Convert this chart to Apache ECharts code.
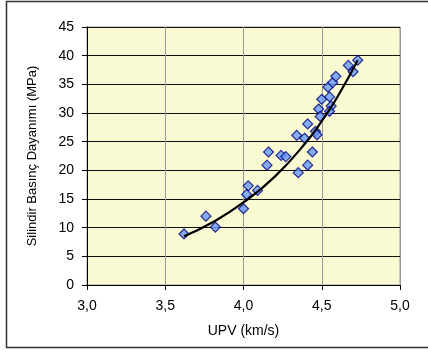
<!DOCTYPE html>
<html>
<head>
<meta charset="utf-8">
<script src="https://cdn.jsdelivr.net/npm/echarts@6/dist/echarts.min.js"></script>
<style>
  html, body { margin: 0; padding: 0; background: #fff; }
  #chart { width: 428px; height: 353px; }
</style>
</head>
<body>
<div id="chart"></div>
<script>
// olcum noktalari (UPV - dayanim)
var upv = [3.62, 3.76, 3.82, 4.00, 4.03, 4.02, 4.09, 4.15, 4.16, 4.24, 4.27, 4.34, 4.35, 4.39, 4.41, 4.41,
    4.44, 4.46, 4.47, 4.48, 4.49, 4.50, 4.54, 4.55, 4.56, 4.55, 4.57, 4.59, 4.67, 4.70, 4.73];
var strength = [8.9, 12.0, 10.1, 13.3, 17.3, 15.8, 16.5, 20.9, 23.2, 22.6, 22.4, 26.1, 19.6, 25.6, 28.1, 20.9,
    23.2, 26.8, 26.2, 30.7, 29.4, 32.4, 34.5, 32.8, 31.2, 30.3, 35.3, 36.4, 38.3, 37.2, 39.2];
// egilim cizgisi (resimden okunan noktalar)
var trendX = [3.62, 3.80, 4.00, 4.20, 4.40, 4.50, 4.60, 4.73];
var trendY = [8.5, 10.9, 14.4, 18.9, 24.9, 28.6, 32.8, 39.2];
var xTicks = [3.0, 3.5, 4.0, 4.5, 5.0];
var yTicks = [0, 5, 10, 15, 20, 25, 30, 35, 40, 45];

var chart = echarts.init(document.getElementById('chart'));
var font = 'Liberation Sans, Arial, sans-serif';

var points = upv.map(function (v, i) { return [v, strength[i]]; });
var trend = trendX.map(function (v, i) { return [v, trendY[i]]; });

chart.setOption({
    animation: false,
    graphic: [{
        type: 'rect',
        shape: {x: 6.5, y: 1.5, width: 430, height: 346},
        style: {fill: 'none', stroke: '#333', lineWidth: 1.5},
        silent: true
    }],
    grid: {
        left: 87, right: 28, top: 27, bottom: 68,
        show: true,
        backgroundColor: '#FAFAD2',
        borderColor: '#999',
        borderWidth: 1
    },
    xAxis: {
        type: 'value',
        min: xTicks[0], max: xTicks[xTicks.length - 1], interval: 0.5,
        name: 'UPV (km/s)',
        nameLocation: 'middle',
        nameGap: 39,
        nameTextStyle: {fontFamily: font, fontSize: 14, color: '#000'},
        axisLine: {show: true, onZero: false, lineStyle: {color: '#000', width: 1}},
        axisTick: {show: true, length: 5, lineStyle: {color: '#000'}},
        axisLabel: {
            fontFamily: font, fontSize: 14, color: '#000', margin: 14,
            formatter: function (v) { return v.toFixed(1).replace('.', ','); }
        },
        splitLine: {show: true, lineStyle: {color: '#999', width: 1}}
    },
    yAxis: {
        type: 'value',
        min: yTicks[0], max: yTicks[yTicks.length - 1], interval: 5,
        name: 'Silindir Basınç Dayanımı (MPa)',
        nameLocation: 'middle',
        nameGap: 48,
        nameTextStyle: {fontFamily: font, fontSize: 13, color: '#000'},
        axisLine: {show: true, onZero: false, lineStyle: {color: '#000', width: 1}},
        axisTick: {show: true, length: 5, lineStyle: {color: '#000'}},
        axisLabel: {fontFamily: font, fontSize: 14, color: '#000', margin: 13},
        splitLine: {show: true, lineStyle: {color: '#111', width: 1}}
    },
    series: [{
        type: 'scatter',
        data: points,
        symbol: 'diamond',
        symbolSize: 10,
        itemStyle: {color: '#6699F5', borderColor: '#000080', borderWidth: 1.2},
        z: 2
    }, {
        type: 'line',
        data: trend,
        smooth: true,
        symbol: 'none',
        lineStyle: {color: '#000', width: 2.2},
        z: 3
    }]
});
</script>
</body>
</html>
